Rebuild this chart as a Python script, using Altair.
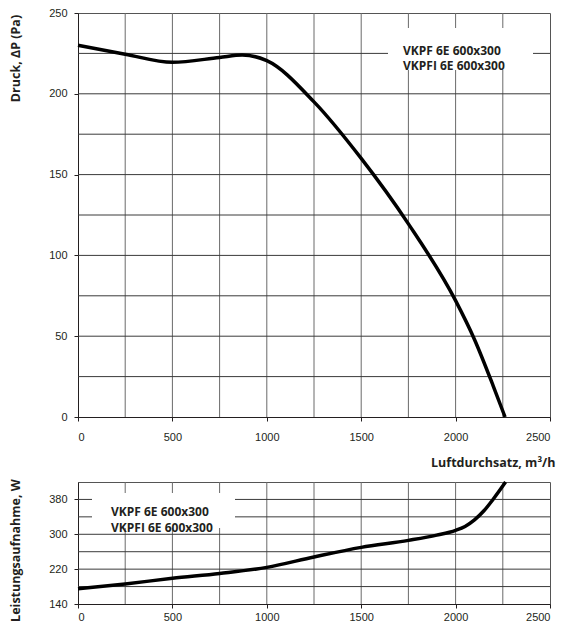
import altair as alt
import pandas as pd

# ---- data ----
flow_p = [0, 250, 500, 750, 870, 1000, 1250, 1500, 1750, 2000, 2100, 2200, 2262]
druck = [230, 224.5, 219.5, 222.5, 224, 220.5, 195, 160, 119.5, 72, 48, 19, 0]

flow_w = [0, 250, 500, 750, 1000, 1250, 1500, 1750, 1900, 2000, 2050, 2100, 2150, 2200, 2265]
power = [175, 186, 199, 210, 224, 248, 270, 286, 298, 309, 318, 333, 354, 381, 420]

x_ticks = [0, 500, 1000, 1500, 2000, 2500]
x_grid = [250, 500, 750, 1000, 1250, 1500, 1750, 2000, 2250]
p_ticks = [0, 50, 100, 150, 200, 250]
p_grid = [25, 50, 75, 100, 125, 150, 175, 200, 225]
w_ticks = [140, 220, 300, 380]
w_grid = [180, 220, 260, 300, 340, 380]

legend_text = "VKPF 6E 600x300\nVKPFI 6E 600x300"

INK = "#231f20"
LBL_FONT = "Liberation Sans"
TTL_FONT = "Open Sans"

xs = alt.Scale(domain=[0, 2500], nice=False, zero=False)
ys_top = alt.Scale(domain=[0, 250], nice=False)
ys_bot = alt.Scale(domain=[140, 420], nice=False, zero=False)

W = 472


def panel(flow, vals, yscale, ygrid, xaxis, yaxis, box, txt, h):
    df = pd.DataFrame({"flow": flow, "val": vals})
    vg = alt.Chart(pd.DataFrame({"flow": x_grid})).mark_rule(color="#6a6a6a", strokeWidth=1).encode(
        x=alt.X("flow:Q", scale=xs, axis=xaxis))
    hg = alt.Chart(pd.DataFrame({"val": ygrid})).mark_rule(color="#3a3a3a", strokeWidth=1).encode(
        y=alt.Y("val:Q", scale=yscale, axis=yaxis))
    bx = alt.Chart(pd.DataFrame({"a": [0]})).mark_rect(color="white").encode(
        x=alt.value(box[0]), x2=alt.value(box[1]), y=alt.value(box[2]), y2=alt.value(box[3]))
    tx = alt.Chart(pd.DataFrame({"t": [legend_text]})).mark_text(
        align="left", baseline="middle", font=TTL_FONT, fontWeight="bold", fontSize=12,
        color=INK, lineBreak="\n", lineHeight=15.5).encode(
        x=alt.value(txt[0]), y=alt.value(txt[1]), text="t:N")
    ln = alt.Chart(df).mark_line(color="black", strokeWidth=3.5, interpolate="monotone").encode(
        x=alt.X("flow:Q", scale=xs, axis=xaxis),
        y=alt.Y("val:Q", scale=yscale, axis=yaxis))
    return alt.layer(vg, hg, bx, tx, ln).properties(width=W, height=h)


common = dict(domainColor=INK, tickColor=INK, labelColor=INK, labelFont=LBL_FONT,
              labelFontSize=11, titleFont=TTL_FONT, titleFontSize=12.5, titleFontWeight="bold",
              titleColor=INK, grid=False, tickSize=4, domainWidth=1, format="d")

top_x = alt.Axis(values=x_ticks, title="Luftdurchsatz, m³/h", labelPadding=10,
                 titleAlign="right", titleX=477, titleY=45, titleBaseline="middle", **common)
top_y = alt.Axis(values=p_ticks, title="Druck, ΔP (Pa)", labelPadding=7,
                 titleAlign="center", titleX=-63, titleY=45, titleBaseline="middle", titleAngle=-90, **common)
bot_x = alt.Axis(values=x_ticks, title=None, labelPadding=3, **common)
bot_y = alt.Axis(values=w_ticks, title="Leistungsaufnahme, W", labelPadding=7,
                 titleAlign="center", titleX=-63, titleY=68, titleBaseline="middle", titleAngle=-90, **common)

top = panel(flow_p, druck, ys_top, p_grid, top_x, top_y,
            (310, 455, 15, 57), (325, 37.5), 404)
bot = panel(flow_w, power, ys_bot, w_grid, bot_x, bot_y,
            (14, 157, 11, 46), (33, 30), 122)

chart = alt.vconcat(top, bot, spacing=65, bounds="flush").properties(
    padding={"left": 0, "top": -2, "right": 0, "bottom": 0}
).configure_view(stroke="#555555", strokeWidth=1)

chart.save("out.html", embed_options={"renderer": "svg", "actions": False})
